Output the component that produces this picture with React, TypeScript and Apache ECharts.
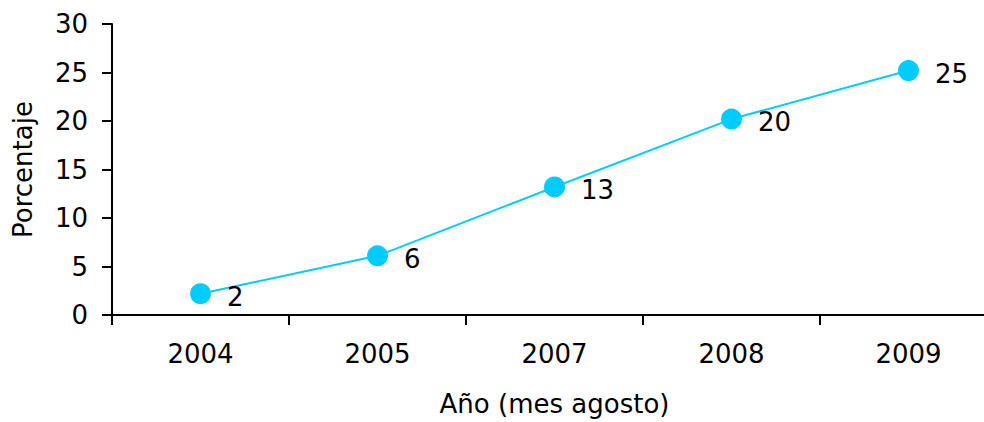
import React, { useEffect, useRef } from "react";
import * as echarts from "echarts";

const categories = ["2004", "2005", "2007", "2008", "2009"];
const values = [2.2, 6.1, 13.2, 20.2, 25.2];
const yTicks = { min: 0, max: 30, interval: 5 };
const xName = "Año (mes agosto)";
const yName = "Porcentaje";

export default function App() {
  const ref = useRef<HTMLDivElement>(null);
  useEffect(() => {
    if (!ref.current) return;
    const chart = echarts.init(ref.current, null, { renderer: "svg" });
    const font = "DejaVu Sans";
    chart.setOption({
      animation: false,
      textStyle: { fontFamily: font },
      grid: { left: 112, top: 24, bottom: 103, right: 3, containLabel: false },
      xAxis: {
        type: "category",
        data: categories,
        boundaryGap: true,
        name: xName,
        nameLocation: "middle",
        nameGap: 76,
        nameTextStyle: { fontSize: 26, color: "#000", fontFamily: font },
        axisLine: { lineStyle: { color: "#000", width: 2 } },
        axisTick: { show: true, length: 10, lineStyle: { color: "#000", width: 2 } },
        axisLabel: { fontSize: 26, color: "#000", margin: 26, fontFamily: font },
        splitLine: { show: false },
      },
      yAxis: {
        type: "value",
        min: yTicks.min,
        max: yTicks.max,
        interval: yTicks.interval,
        name: yName,
        nameLocation: "middle",
        nameGap: 76,
        nameTextStyle: { fontSize: 26, color: "#000", fontFamily: font },
        axisLine: { show: true, lineStyle: { color: "#000", width: 2 } },
        axisTick: { show: true, length: 10, lineStyle: { color: "#000", width: 2 } },
        axisLabel: { fontSize: 26, color: "#000", margin: 24, fontFamily: font },
        splitLine: { show: false },
      },
      series: [
        {
          type: "line",
          data: values,
          symbol: "circle",
          symbolSize: 21,
          lineStyle: { color: "#00CCFF", width: 2 },
          itemStyle: { color: "#00CCFF" },
          label: {
            show: true,
            position: "right",
            distance: 16,
            offset: [0, 3],
            fontSize: 26,
            color: "#000",
            fontFamily: font,
            formatter: (p: any) => String(Math.round(p.value)),
          },
        },
      ],
    });
    return () => chart.dispose();
  }, []);
  return (
    <div style={{ width: 984, height: 422, position: "absolute", left: 0, top: 0, overflow: "hidden" }}>
      <div ref={ref} style={{ width: 1000, height: 422 }} />
    </div>
  );
}
